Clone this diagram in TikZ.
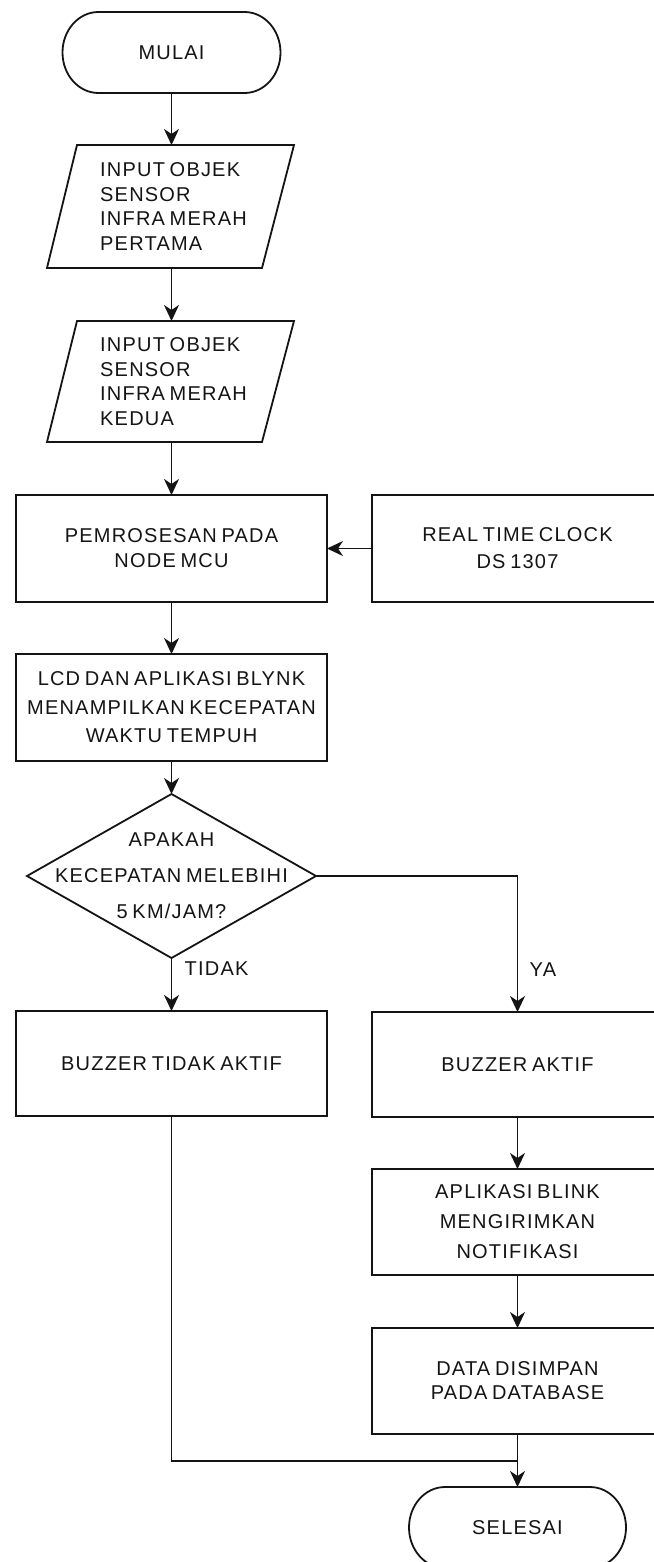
\documentclass[tikz,border=0pt]{standalone}
\usepackage{fontspec}
\setmainfont[LetterSpace=6,WordSpace=0.7]{Liberation Sans}
\usetikzlibrary{shapes.geometric,arrows.meta,calc}
\newcommand{\fsz}[1]{\fontsize{20pt}{#1pt}\selectfont}
\begin{document}
\begin{tikzpicture}[x=1pt,y=-1pt,
  strk/.style={draw=black!92, line width=1.8pt},
  box/.style={rectangle, strk, inner sep=0pt, outer sep=0pt, align=center, text=black!92},
  flow/.style={strk, -{Stealth[length=16pt,width=15pt,inset=5pt]}},
  lbl/.style={font=\fsz{22}, text=black!92, inner sep=0pt, anchor=west}]
\useasboundingbox (0,0) rectangle (653,1562);
\fill[white] (0,0) rectangle (653,1562);

% start terminator
\node[box, draw=none, minimum width=218pt, minimum height=81pt, font=\fsz{22}] (mulai) at (171.5,52.5) {MULAI};
\draw[strk] ([xshift=36pt]mulai.north west) -- ([xshift=-36pt]mulai.north east)
  arc[start angle=90, end angle=-90, x radius=36pt, y radius=40.5pt]
  -- ([xshift=36pt]mulai.south west)
  arc[start angle=270, end angle=90, x radius=36pt, y radius=40.5pt] -- cycle;

% inputs
\node[box, draw=none, align=left, minimum height=123pt, font=\fsz{24.7}] (in1) at (173.5,206.5) {INPUT OBJEK\\SENSOR\\INFRA MERAH\\PERTAMA};
\draw[strk] (77,145) -- (294,145) -- (262,268) -- (47,268) -- cycle;
\node[box, draw=none, align=left, minimum height=121pt, font=\fsz{24.7}] (in2) at (173.5,381.5) {INPUT OBJEK\\SENSOR\\INFRA MERAH\\KEDUA};
\draw[strk] (77,321) -- (294,321) -- (262,442) -- (47,442) -- cycle;

% processes
\node[box, minimum width=311pt, minimum height=107pt, font=\fsz{25}] (proc) at (171.5,548.5) {PEMROSESAN PADA\\NODE MCU};
\node[box, minimum width=291pt, minimum height=107pt, font=\fsz{27}] (rtc) at (517.5,548.5) {REAL TIME CLOCK\\DS 1307};
\node[box, minimum width=311pt, minimum height=107pt, font=\fsz{28.5}] (lcd) at (171.5,707.5) {LCD DAN APLIKASI BLYNK\\MENAMPILKAN KECEPATAN\\WAKTU TEMPUH};

% decision
\node[diamond, strk, minimum width=289pt, minimum height=164pt, inner sep=0pt, outer sep=0pt] (dec) at (171.5,876) {};
\node[font=\fsz{36}, align=center, text=black!92, inner sep=0pt] (dectext) at (dec.center) {APAKAH\\KECEPATAN MELEBIHI\\5 KM/JAM?};

\node[box, minimum width=311pt, minimum height=105pt, font=\fsz{22}] (bta) at (171.5,1063.5) {BUZZER TIDAK AKTIF};
\node[box, minimum width=291pt, minimum height=105pt, font=\fsz{22}] (ba) at (517.5,1064.5) {BUZZER AKTIF};
\node[box, minimum width=291pt, minimum height=106pt, font=\fsz{30}] (app) at (517.5,1222) {APLIKASI BLINK\\MENGIRIMKAN\\NOTIFIKASI};
\node[box, minimum width=291pt, minimum height=106pt, font=\fsz{24}] (data) at (517.5,1381) {DATA DISIMPAN\\PADA DATABASE};

% end terminator
\node[box, draw=none, minimum width=217pt, minimum height=81pt, font=\fsz{22}] (selesai) at (517.5,1527.5) {SELESAI};
\draw[strk] ([xshift=36pt]selesai.north west) -- ([xshift=-36pt]selesai.north east)
  arc[start angle=90, end angle=-90, x radius=36pt, y radius=40.5pt]
  -- ([xshift=36pt]selesai.south west)
  arc[start angle=270, end angle=90, x radius=36pt, y radius=40.5pt] -- cycle;

% connectors
\draw[flow] (mulai.south) -- (mulai.south |- in1.north);
\draw[flow] (mulai.south |- in1.south) -- (mulai.south |- in2.north);
\draw[flow] (mulai.south |- in2.south) -- (proc.north);
\draw[flow] (rtc.west) -- (proc.east);
\draw[flow] (proc.south) -- (lcd.north);
\draw[flow] (lcd.south) -- (dec.north);
\draw[flow] (dec.south) -- (bta.north);
\node[lbl] (tidak) at ($(bta.north)+(13,-42)$) {TIDAK};
\draw[flow] (dec.east) -| (ba.north);
\node[lbl] (ya) at ($(ba.north)+(12,-42)$) {YA};
\draw[flow] (ba.south) -- (app.north);
\draw[flow] (app.south) -- (data.north);
\coordinate (merge) at (517.5,1461);
\draw[strk] (bta.south) |- (merge);
\draw[flow] (data.south) -- (selesai.north);
\end{tikzpicture}
\end{document}
